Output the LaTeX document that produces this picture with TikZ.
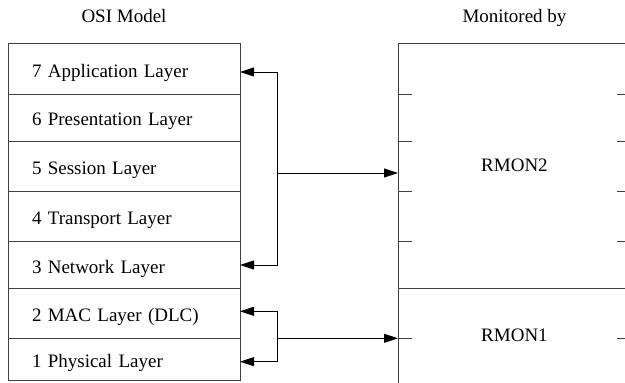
\documentclass[tikz,border=0pt]{standalone}
\usepackage{fontspec}
\setmainfont{Liberation Serif}
\usetikzlibrary{positioning,arrows.meta}

\tikzset{
  layer/.style={draw=black!75, line width=0.9pt, outer sep=0pt, text width=184pt, inner xsep=24pt, inner ysep=0pt,
    align=left, text height=16pt, text depth=0pt},
  monitor/.style={draw=black!75, line width=0.9pt, outer sep=0pt, minimum width=233pt, inner sep=0pt},
  link/.style={black, line width=0.8pt, -{Triangle[length=14pt,width=9pt]}},
  tick/.style={draw=black!75, line width=0.9pt}
}

\begin{document}
\begin{tikzpicture}[x=1pt, y=-1pt, font=\fontsize{19}{22}\selectfont]
\clip (0,0) rectangle (625,383);

% OSI stack
\node[layer, minimum height=51.4pt, anchor=north west] (l7) at (8,43.3) {7 Application Layer};
\node[layer, minimum height=46.3pt, below=0pt of l7] (l6) {6 Presentation Layer};
\node[layer, minimum height=50.7pt, below=0pt of l6] (l5) {5 Session Layer};
\node[layer, minimum height=50pt, below=0pt of l5] (l4) {4 Transport Layer};
\node[layer, minimum height=46.6pt, below=0pt of l4] (l3) {3 Network Layer};
\node[layer, minimum height=50pt, below=0pt of l3] (l2) {2 MAC Layer (DLC)};
\node[layer, minimum height=42pt, below=0pt of l2] (l1) {1 Physical Layer};

% monitors
\node[monitor, minimum height=245pt, anchor=north west] (rmon2) at (398,43.3) {RMON2};
\node[monitor, minimum height=95pt, below=0pt of rmon2] (rmon1) {RMON1};

\node (osi) at (l7.north |- 0,16) {OSI Model};
\node (mon) at (rmon2.north |- 0,18) {Monitored by};

\foreach \n in {l7,l6,l5,l4} {
  \draw[tick] (rmon2.west |- \n.south) -- ++(14,0);
  \draw[tick] (rmon2.east |- \n.south) -- ++(-14,0);
}
\draw[tick] (rmon1.west |- l2.south) -- ++(14,0);
\draw[tick] (rmon1.east |- l2.south) -- ++(-14,0);

% connections
\coordinate (bus2) at (277,173);
\coordinate (bus1) at ([xshift=37pt]l2.south east);
\draw[link] (bus2) |- ([yshift=-3pt]l7.east);
\draw[link] (bus2) |- (l3.east);
\draw[link] (bus2) -- (bus2 -| rmon2.west);
\draw[link] (bus1) |- ([yshift=2pt]l2.east);
\draw[link] (bus1) |- ([yshift=-2.4pt]l1.east);
\draw[link] (bus1) -- (bus1 -| rmon1.west);
\end{tikzpicture}
\end{document}
